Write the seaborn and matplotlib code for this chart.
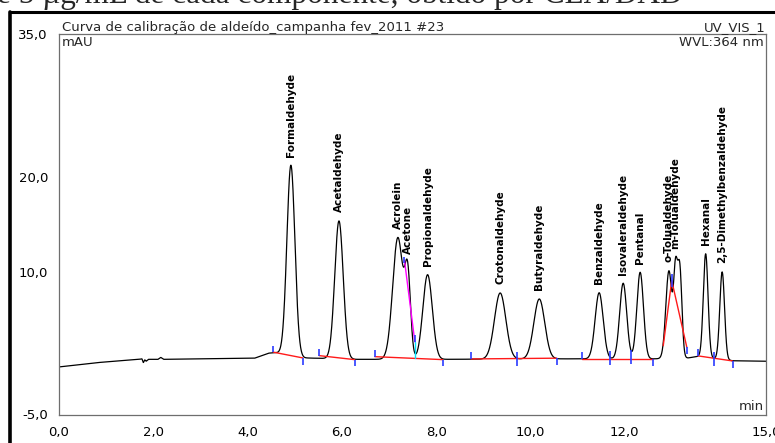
import numpy as np
import pandas as pd
import matplotlib
matplotlib.use("Agg")
import matplotlib.pyplot as plt
from matplotlib.lines import Line2D
import seaborn as sns

# ---------------- data ----------------
peak_labels = ["Formaldehyde", "Acetaldehyde", "Acrolein", "Acetone", "Propionaldehyde",
               "Crotonaldehyde", "Butyraldehyde", "Benzaldehyde", "Isovaleraldehyde",
               "Pentanal", "o-Tolualdehyde", "m-Tolualdehyde", "Hexanal",
               "2,5-Dimethylbenzaldehyde"]
peak_rt = [4.92, 5.94, 7.19, 7.40, 7.82, 9.36, 10.19, 11.46, 11.97, 12.33, 12.94, 13.08, 13.72, 14.07]
peak_height = [20.0, 14.5, 12.8, 8.1, 8.9, 6.95, 6.3, 6.95, 7.95, 9.1, 9.2, 8.4, 10.9, 9.2]
peak_sigma = [0.085, 0.09, 0.11, 0.06, 0.10, 0.12, 0.115, 0.085, 0.075, 0.07, 0.065, 0.04, 0.05, 0.05]
# unlabelled second top of the m-Tolualdehyde peak
shoulder_rt = [13.17]
shoulder_height = [9.4]
shoulder_sigma = [0.045]

# drifting baseline of the trace (min, mAU), including the small glitch near 1.8 min
base_t = [0.0, 0.8, 1.7, 1.76, 1.79, 1.82, 1.85, 1.9, 2.1, 2.16, 2.22, 4.15, 4.45, 4.6,
          5.2, 6.3, 8.1, 10.5, 12.6, 13.35, 13.55, 14.3, 15.0]
base_v = [0.0, 0.45, 0.8, 0.85, 0.45, 0.75, 0.6, 0.8, 0.8, 1.0, 0.8, 0.92, 1.45, 1.5,
          0.95, 0.8, 0.8, 0.85, 0.85, 0.95, 1.1, 0.65, 0.6]

# integration marks
mark_t = [4.55, 5.17, 5.52, 6.27, 6.70, 7.33, 7.55, 8.14, 8.74, 9.71, 10.56, 11.09,
          11.69, 12.14, 12.60, 13.00, 13.32, 13.56, 13.90, 14.29]
mark_v = [1.55, 0.95, 1.19, 0.77, 1.08, 10.9, 2.63, 0.77, 0.84, 0.84, 0.92, 0.84,
          0.95, 1.05, 0.84, 9.08, 2.07, 1.16, 0.84, 0.63]
mark_kind = ["up", "down", "up", "down", "up", "up", "up", "down", "up", "both", "down", "up",
             "both", "both", "down", "both", "down", "up", "both", "down"]

# integration baselines (red)
red_t = [[4.55, 5.17], [5.52, 6.27], [6.70, 8.14], [8.74, 10.56], [11.09, 12.60],
         [12.82, 13.00, 13.32], [13.56, 14.29]]
red_v = [[1.55, 0.95], [1.19, 0.77], [1.08, 0.77], [0.84, 0.92], [0.84, 0.84],
         [2.24, 9.08, 2.07], [1.16, 0.63]]
# peak split lines
drop_magenta_t = [7.33, 7.55]
drop_magenta_v = [11.2, 2.63]
drop_cyan_t = [7.55, 7.55]
drop_cyan_v = [2.63, 0.95]

x_major = [0, 2, 4, 6, 8, 10, 12, 14, 15]
x_major_labels = ["0,0", "2,0", "4,0", "6,0", "8,0", "10,0", "12,0", "", "15,0"]
y_major = [-5, 0, 10, 20, 35]
y_major_labels = ["-5,0", "", "10,0", "20,0", "35,0"]

title_left = "Curva de calibração de aldeído_campanha fev_2011 #23"
title_right = "UV_VIS_1"
unit_left = "mAU"
unit_right = "WVL:364 nm"
x_unit = "min"
doc_text = "e 5 µg/mL de cada componente, obtido por CLA/DAD"

# ---------------- build the trace ----------------
t = np.linspace(0, 15, 4001)
signal = np.interp(t, base_t, base_v)
for rt, h, s in zip(peak_rt + shoulder_rt, peak_height + shoulder_height, peak_sigma + shoulder_sigma):
    signal = signal + h * np.exp(-0.5 * ((t - rt) / s) ** 2)
df = pd.DataFrame({"time": t, "mAU": signal})

# ---------------- figure ----------------
sns.set_style("white")
plt.rcParams["font.family"] = ["DejaVu Sans"]
W, H = 775, 443
fig = plt.figure(figsize=(W / 100, H / 100), dpi=100)
ax_left, ax_right, ax_top, ax_bot = 59, 766, 34, 414.5
ax = fig.add_axes([ax_left / W, 1 - ax_bot / H, (ax_right - ax_left) / W, (ax_bot - ax_top) / H])

sns.lineplot(data=df, x="time", y="mAU", ax=ax, color="black", linewidth=0.9, estimator=None, sort=False)

for tt, vv in zip(red_t, red_v):
    ax.plot(tt, vv, color="#ff1a1a", linewidth=1.0, zorder=3)
ax.plot(drop_magenta_t, drop_magenta_v, color="#ff00ff", linewidth=1.0, zorder=3)
ax.plot(drop_cyan_t, drop_cyan_v, color="#00e5ff", linewidth=1.0, zorder=3)

tick_len = 0.7
for mt, mv, k in zip(mark_t, mark_v, mark_kind):
    lo, hi = {"up": (mv, mv + tick_len), "down": (mv - tick_len, mv),
              "both": (mv - tick_len, mv + tick_len)}[k]
    ax.vlines(mt, lo, hi, color="#2b3bff", linewidth=1.2, zorder=4)

# peak labels
for name, rt in zip(peak_labels, peak_rt):
    yv = np.interp(rt, t, signal) + 0.9
    ax.text(rt, yv, name, rotation=90, ha="center", va="bottom", fontsize=7.5,
            fontweight="bold", color="black", zorder=5)

ax.set_xlim(0, 15)
ax.set_ylim(-5, 35)
ax.set_xlabel("")
ax.set_ylabel("")
ax.set_xticks(x_major)
ax.set_xticklabels(x_major_labels)
ax.set_xticks(np.arange(0, 15.01, 0.5), minor=True)
ax.set_yticks(y_major)
ax.set_yticklabels(y_major_labels)
ax.set_yticks(np.arange(-5, 35.01, 2.5), minor=True)

spine_col = "#6e6e6e"
for sp in ax.spines.values():
    sp.set_color(spine_col)
    sp.set_linewidth(0.9)
ax.tick_params(axis="both", which="both", colors=spine_col, labelcolor="black", labelsize=9.5, direction="out")
ax.tick_params(axis="y", which="major", length=7, width=0.9, pad=1)
ax.tick_params(axis="y", which="minor", length=4, width=0.9)
ax.tick_params(axis="x", which="major", length=6, width=0.9, pad=2)
ax.tick_params(axis="x", which="minor", length=3, width=0.9)

ax.text(0.004, 1.0, title_left, transform=ax.transAxes, ha="left", va="bottom", fontsize=9.5)
ax.text(1.0, 1.0, title_right, transform=ax.transAxes, ha="right", va="bottom", fontsize=9.5)
ax.text(0.004, 0.995, unit_left, transform=ax.transAxes, ha="left", va="top", fontsize=9.5)
ax.text(0.997, 0.995, unit_right, transform=ax.transAxes, ha="right", va="top", fontsize=9.5)
ax.text(0.997, 0.005, x_unit, transform=ax.transAxes, ha="right", va="bottom", fontsize=9.5)

# document frame and cut-off caption above
fig.add_artist(Line2D([10 / W, 1.0], [1 - 12 / H, 1 - 12 / H], color="black", linewidth=2.2))
fig.add_artist(Line2D([10 / W, 10 / W], [0, 1 - 12 / H], color="black", linewidth=2.6))
fig.text(-3 / W, 1 - 3 / H, doc_text, family="Liberation Serif", fontsize=22.5, ha="left", va="baseline")

fig.savefig("out.png", dpi=100)
